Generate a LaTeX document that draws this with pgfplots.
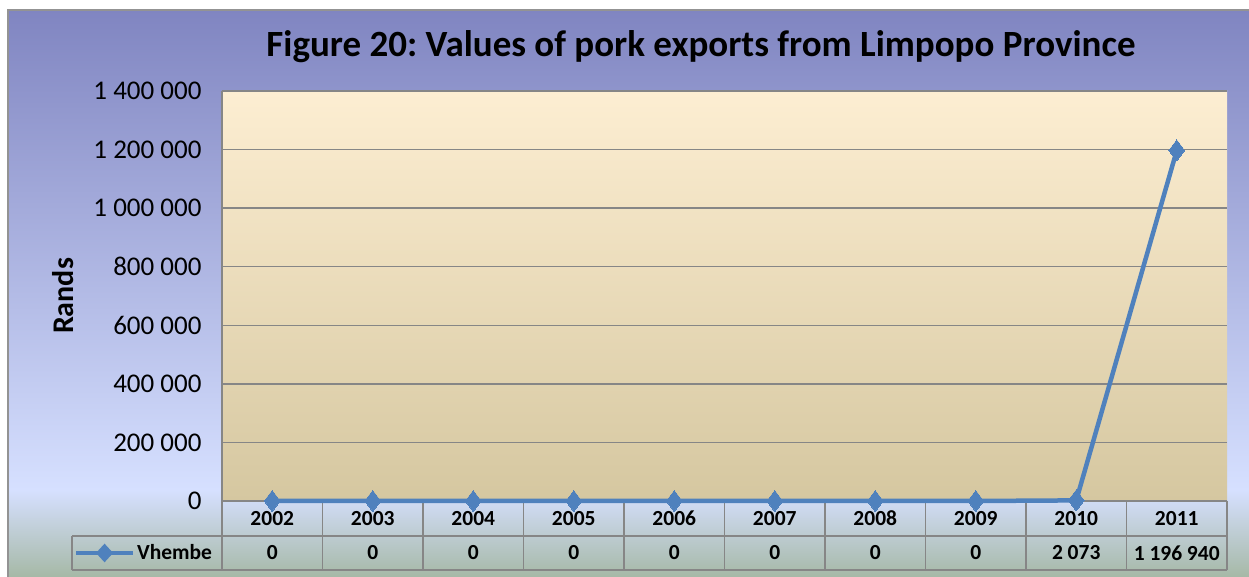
\documentclass[border=0pt]{standalone}
\usepackage{pgfplots}
\pgfplotsset{compat=1.18}
\usepackage{fontspec}
\setmainfont{Carlito}
\frenchspacing
\definecolor{linec}{RGB}{79,129,189}
\definecolor{gridc}{RGB}{134,134,134}
\definecolor{bgtop}{RGB}{128,133,193}
\definecolor{bgmid}{RGB}{214,224,255}
\definecolor{bgbot}{RGB}{160,180,156}
\definecolor{pltop}{RGB}{253,238,210}
\definecolor{plbot}{RGB}{213,199,160}
\pgfdeclareverticalshading{outerbg}{100bp}{color(0bp)=(bgbot); color(25bp)=(bgbot); color(33.4bp)=(bgmid); color(75bp)=(bgtop); color(100bp)=(bgtop)}
\begin{document}
\begin{tikzpicture}[x=1bp,y=1bp]
\useasboundingbox (0,0) rectangle (1249,577);
\begin{scope}
\clip (0,0) rectangle (1249,577);
\shade[shading=outerbg] (8,-10) rectangle (1260,567);
\draw[gray!85, line width=1.5bp] (8,-10) -- (8,567) -- (1260,567);
\end{scope}
% table grid
\begin{scope}[gridc, line width=1.8bp]
\draw (72,41) -- (1227,41);
\draw (72,7) -- (1227,7);
\draw (72,7) -- (72,41);
\foreach \k in {0,...,10} { \draw ({222+100.5*\k},7) -- ({222+100.5*\k},76); }
\end{scope}
\node[font=\bfseries\fontsize{37bp}{44bp}\selectfont] at (701,530) {Figure 20: Values of pork exports from Limpopo Province};
\node[font=\bfseries\fontsize{30bp}{36bp}\selectfont, rotate=90] at (63,281) {Rands};
\begin{axis}[
  at={(222bp,76bp)}, anchor=south west,
  scale only axis, width=1005bp, height=410bp,
  xmin=-0.5, xmax=9.5, ymin=0, ymax=1400000,
  scaled y ticks=false,
  xtick={0,...,9}, xticklabels={2002,2003,2004,2005,2006,2007,2008,2009,2010,2011},
  ytick={0,200000,400000,600000,800000,1000000,1200000,1400000},
  yticklabels={0,200 000,400 000,600 000,800 000,1 000 000,1 200 000,1 400 000},
  axis line style={draw=none},
  ymajorgrids, major grid style={gridc, line width=1.5bp},
  major tick length=0pt,
  yticklabel style={font=\fontsize{27bp}{32bp}\selectfont, xshift=-17bp},
  xticklabel style={font=\bfseries\fontsize{21.5bp}{25bp}\selectfont, anchor=center, yshift=-17.5bp},
  axis background/.style={top color=pltop, bottom color=plbot},
  clip=false,
  legend style={at={(-0.0776,-0.1268)}, anchor=center, draw=none, fill=none,
    font=\bfseries\fontsize{21.5bp}{25bp}\selectfont, inner sep=0pt,
    /tikz/every even column/.style={column sep=2bp}},
  legend image code/.code={%
    \draw[linec, line width=4bp] (0bp,0bp) -- (57bp,0bp);
    \fill[linec] (28.5bp,0bp) +(0bp,6bp) -- +(5.5bp,0bp) -- +(0bp,-6bp) -- +(-5.5bp,0bp) -- cycle;},
]
\draw[gridc, line width=1.8bp] (rel axis cs:0,0) -- (rel axis cs:0,1);
\addplot[linec, line width=4.5bp, mark=diamond*, mark size=10.5bp,
  mark options={solid, fill=linec, draw=linec, line width=0pt}]
  coordinates {(0,0) (1,0) (2,0) (3,0) (4,0) (5,0) (6,0) (7,0) (8,2073) (9,1196940)};
\legend{Vhembe}
\end{axis}
\foreach \v [count=\i from 0] in {0,0,0,0,0,0,0,0,2\hspace{0.22em}073,1\hspace{0.22em}196\hspace{0.22em}940} {
  \node[font=\bfseries\fontsize{21.5bp}{25bp}\selectfont] at ({272.25+100.5*\i},24) {\v};
}
\end{tikzpicture}
\end{document}
